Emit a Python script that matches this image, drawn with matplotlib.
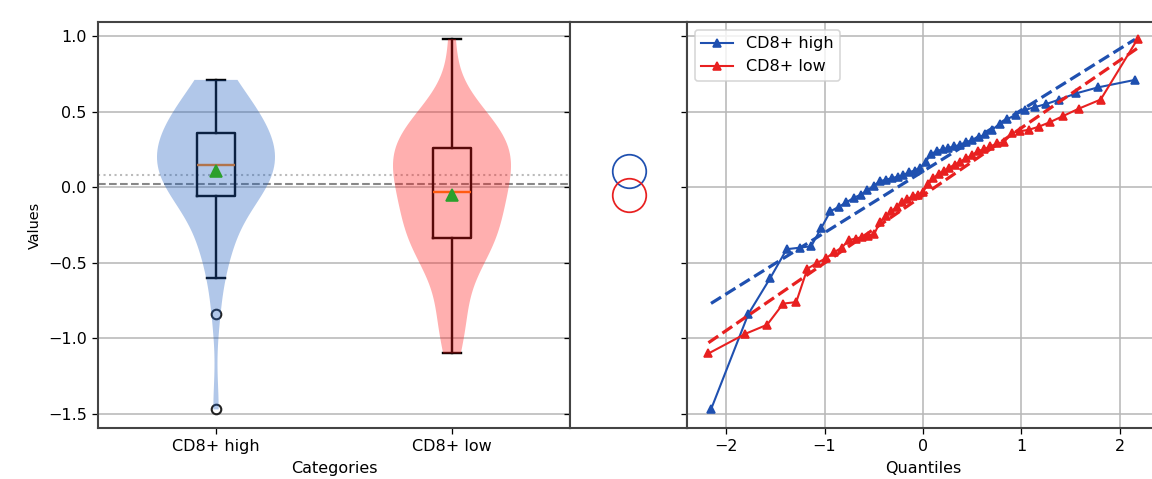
import matplotlib
matplotlib.use("Agg")
import matplotlib.pyplot as plt
import numpy as np
from statistics import NormalDist

# ---- data ----
categories = ["CD8+ high", "CD8+ low"]

cd8_high = [-1.47, -0.84, -0.60, -0.41, -0.40, -0.39, -0.27, -0.16, -0.13, -0.10,
            -0.07, -0.05, -0.02, 0.01, 0.04, 0.05, 0.06, 0.07, 0.08, 0.10,
            0.11, 0.13, 0.17, 0.22, 0.24, 0.25, 0.26, 0.27, 0.28, 0.30,
            0.31, 0.33, 0.35, 0.38, 0.42, 0.45, 0.48, 0.51, 0.53, 0.55,
            0.58, 0.62, 0.66, 0.71]

cd8_low = [-1.10, -0.97, -0.91, -0.77, -0.76, -0.54, -0.50, -0.47, -0.43, -0.40,
           -0.35, -0.34, -0.33, -0.32, -0.31, -0.23, -0.19, -0.16, -0.13, -0.10,
           -0.08, -0.06, -0.05, -0.03, 0.02, 0.06, 0.09, 0.11, 0.13, 0.15,
           0.17, 0.19, 0.21, 0.24, 0.25, 0.27, 0.29, 0.30, 0.36, 0.37,
           0.38, 0.40, 0.43, 0.47, 0.52, 0.58, 0.98]

ref_dotted = 0.08
ref_dashed = 0.02

series_colors = ["#1f50b0", "#e82020"]
fill_colors = ["#2060c0", "#ff1a1a"]

# ---- figure ----
DPI = 115
fig = plt.figure(figsize=(1152 / DPI, 479 / DPI), dpi=DPI)
W, H = 1152, 479
bottom = (H - 428) / H
height = 406 / H
ax1 = fig.add_axes([98 / W, bottom, 472 / W, height])
ax2 = fig.add_axes([570 / W, bottom, 117 / W, height], sharey=ax1)
ax3 = fig.add_axes([687 / W, bottom, 472 / W, height], sharey=ax1)

data = [np.array(cd8_high), np.array(cd8_low)]
positions = [1, 2]

# box plots
bp = ax1.boxplot(data, positions=positions, widths=0.16, showmeans=True,
                 patch_artist=False,
                 boxprops=dict(color="black", linewidth=1.5),
                 whiskerprops=dict(color="black", linewidth=1.5),
                 capprops=dict(color="black", linewidth=1.5),
                 medianprops=dict(color="#ff7f0e", linewidth=1.5),
                 meanprops=dict(marker="^", markerfacecolor="#2ca02c",
                                markeredgecolor="#2ca02c", markersize=7),
                 flierprops=dict(marker="o", markerfacecolor="none",
                                 markeredgecolor="#222222", markersize=6,
                                 markeredgewidth=1.3))
for m in bp["means"]:
    m.set_zorder(5)

# violins on top (semi-transparent)
vp = ax1.violinplot(data, positions=positions, widths=0.5,
                    showextrema=False, showmeans=False, showmedians=False)
for body, fc in zip(vp["bodies"], fill_colors):
    body.set_facecolor(fc)
    body.set_edgecolor("none")
    body.set_alpha(0.35)
    body.set_zorder(3)

ax1.axhline(ref_dotted, color="#bbbbbb", linestyle=":", linewidth=1.3, zorder=1.5)
ax1.axhline(ref_dashed, color="#888888", linestyle="--", linewidth=1.3, zorder=1.5)

ax1.set_xticks(positions)
ax1.set_xticklabels(categories)
ax1.set_xlim(0.5, 2.5)
ax1.set_ylim(-1.593, 1.093)
ax1.set_yticks([-1.5, -1.0, -0.5, 0.0, 0.5, 1.0])
ax1.set_xlabel("Categories")
ax1.set_ylabel("Values", fontsize=9)
ax1.yaxis.grid(True, color="#b8b8b8", linewidth=1.0)
ax1.set_axisbelow(True)

# middle panel: means as open circles
for d, c in zip(data, series_colors):
    ax2.plot([0], [np.mean(d)], marker="o", markersize=21, markerfacecolor="none",
             markeredgecolor=c, markeredgewidth=1.1, linestyle="none")
ax2.set_xlim(-1, 1)
ax2.set_xticks([])
ax2.tick_params(labelleft=False)

# right panel: QQ plots
for d, c, lab in zip(data, series_colors, categories):
    n = len(d)
    m = np.empty(n)
    m[-1] = 0.5 ** (1.0 / n)
    m[0] = 1 - m[-1]
    idx = np.arange(2, n)
    m[1:-1] = (idx - 0.3175) / (n + 0.365)
    q = np.array([NormalDist().inv_cdf(v) for v in m])
    vals = np.sort(d)
    ax3.plot(q, vals, color=c, marker="^", markersize=5, linewidth=1.3, label=lab)
    slope, intercept = np.polyfit(q, vals, 1)
    ax3.plot(q[[0, -1]], slope * q[[0, -1]] + intercept, color=c,
             linestyle="--", linewidth=2.0)

ax3.tick_params(labelleft=False)
ax3.set_xticks([-2, -1, 0, 1, 2])
ax3.set_xlabel("Quantiles")
ax3.grid(True, color="#b8b8b8", linewidth=1.0)
ax3.set_axisbelow(True)
ax3.legend(loc="upper left")

for ax in (ax1, ax2, ax3):
    for sp in ax.spines.values():
        sp.set_color("#444444")
        sp.set_linewidth(1.3)

fig.savefig("out.png", dpi=DPI)
